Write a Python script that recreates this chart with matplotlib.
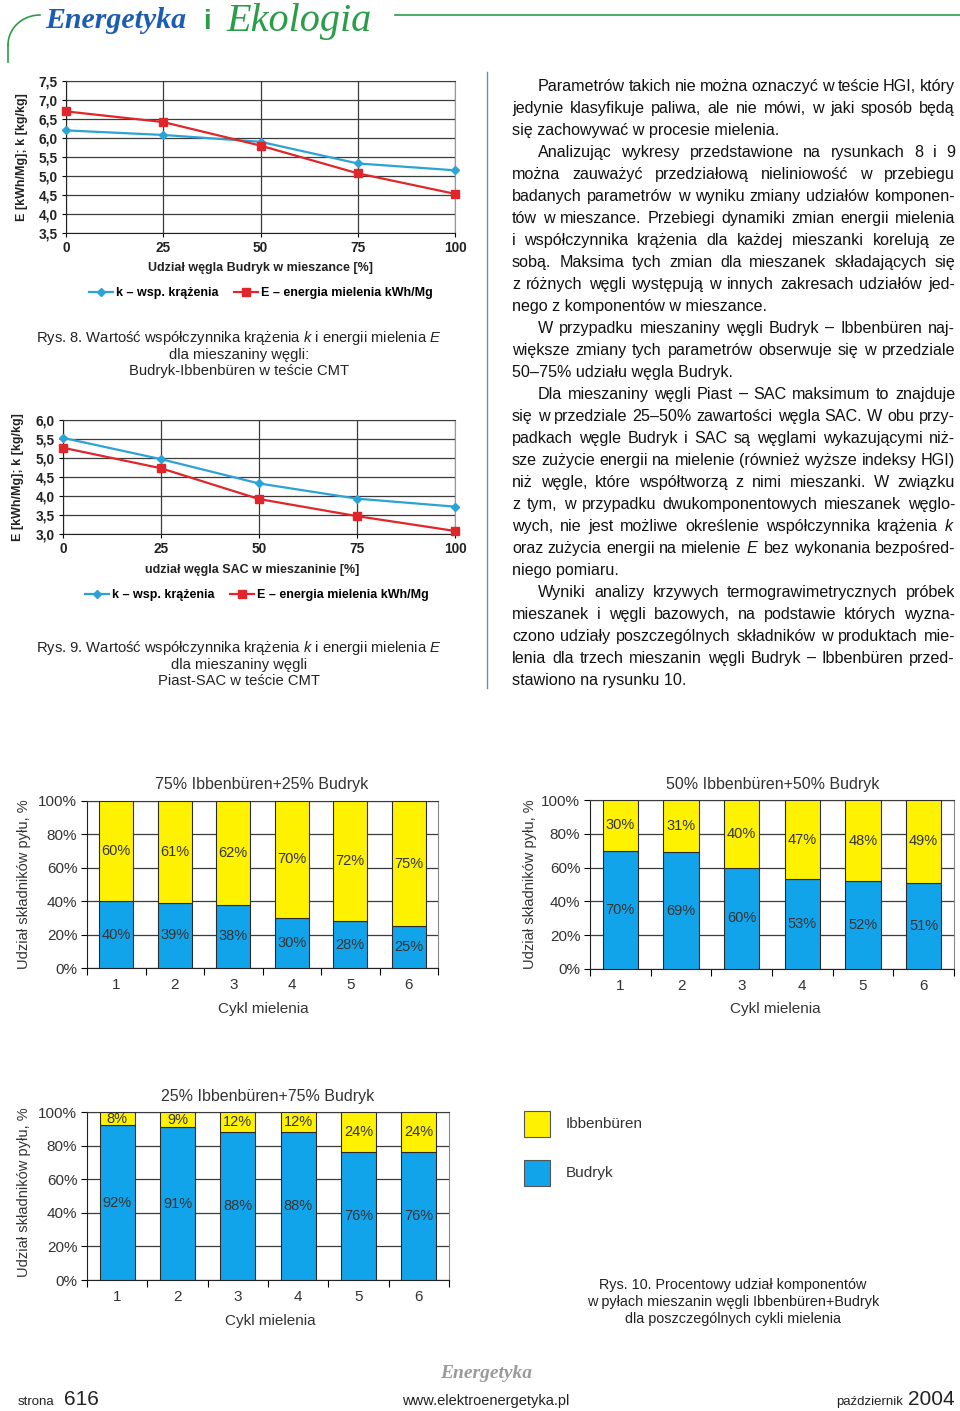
import matplotlib
matplotlib.use('Agg')
from matplotlib import pyplot as plt
from matplotlib.patches import Rectangle
from matplotlib.lines import Line2D
import numpy as np

plt.rcParams['font.family'] = ['Liberation Sans', 'DejaVu Sans']
plt.rcParams['mathtext.fontset'] = 'custom'
plt.rcParams['mathtext.rm'] = 'Liberation Sans'
plt.rcParams['mathtext.it'] = 'Liberation Sans:italic'

W, H = 960, 1411

# ---- data: Rys. 8 / Rys. 9 (line charts) ----
share = [0, 25, 50, 75, 100]
k_budryk = [6.20, 6.08, 5.90, 5.33, 5.15]
e_budryk = [6.70, 6.42, 5.80, 5.07, 4.53]
k_sac = [5.53, 4.97, 4.33, 3.93, 3.72]
e_sac = [5.27, 4.73, 3.92, 3.47, 3.08]
yticks_budryk = [3.5, 4.0, 4.5, 5.0, 5.5, 6.0, 6.5, 7.0, 7.5]
yticks_sac = [3.0, 3.5, 4.0, 4.5, 5.0, 5.5, 6.0]

# ---- data: Rys. 10 (stacked bars) ----
cycles = [1, 2, 3, 4, 5, 6]
ibb_75 = [60, 61, 62, 70, 72, 75]
bud_75 = [40, 39, 38, 30, 28, 25]
ibb_50 = [30, 31, 40, 47, 48, 49]
bud_50 = [70, 69, 60, 53, 52, 51]
ibb_25 = [8, 9, 12, 12, 24, 24]
bud_25 = [92, 91, 88, 88, 76, 76]
pct_ticks = [0, 20, 40, 60, 80, 100]

K_COL = '#2ba3d6'
E_COL = '#e0262b'
BLUE = '#12a4ea'
YELLOW = '#fff200'
GRID = '#3c3c3c'

fig = plt.figure(figsize=(W / 100, H / 100), dpi=100)


def axes_px(l, t, r, b):
    return fig.add_axes([l / W, 1 - b / H, (r - l) / W, (b - t) / H])


def ftext(x, y, s, **kw):
    return fig.text(x / W, 1 - y / H, s, **kw)


def line_chart(box, k, e, yticks, xlabel, xlab_xy, leg_xy, ylab_xy):
    ax = axes_px(*box)
    ax.plot(share, k, color=K_COL, marker='D', ms=4.5, lw=1.6, clip_on=False, zorder=4,
            label='k – wsp. krążenia')
    ax.plot(share, e, color=E_COL, marker='s', ms=5.5, lw=1.6, clip_on=False, zorder=4,
            label='E – energia mielenia kWh/Mg')
    ax.set_xlim(0, 100)
    ax.set_ylim(yticks[0], yticks[-1])
    ax.set_xticks(share)
    ax.set_yticks(yticks)
    ax.set_yticklabels([f'{v:.1f}'.replace('.', ',') for v in yticks])
    ax.grid(color=GRID, lw=0.9)
    ax.set_axisbelow(True)
    for s in ['left', 'bottom']:
        ax.spines[s].set_color('#222')
    ax.spines['top'].set_color(GRID)
    ax.spines['right'].set_color('#999')
    ax.tick_params(length=3, width=0.8, labelsize=9.8, pad=3)
    for lab in ax.get_xticklabels() + ax.get_yticklabels():
        lab.set_fontweight('bold')
        lab.set_color('#222')
    ftext(*xlab_xy, xlabel, ha='center', va='center', fontsize=9, fontweight='bold', color='#222')
    ftext(*ylab_xy, 'E [kWh/Mg]; k [kg/kg]', ha='center', va='center', rotation=90,
          fontsize=9, fontweight='bold', color='#222')
    fig.legend(*ax.get_legend_handles_labels(), loc='center',
               bbox_to_anchor=(leg_xy[0] / W, 1 - leg_xy[1] / H), ncol=2, frameon=False,
               handlelength=1.9, handletextpad=0.3, columnspacing=1.2,
               prop={'size': 9, 'weight': 'bold'})
    return ax


def bar_chart(box, ibb, bud, title, title_xy, xlab_xy, ylab_xy):
    ax = axes_px(*box)
    ax.bar(cycles, bud, width=0.58, color=BLUE, edgecolor='#2b2b2b', lw=0.8, zorder=3)
    ax.bar(cycles, ibb, bottom=bud, width=0.58, color=YELLOW, edgecolor='#2b2b2b', lw=0.8, zorder=3)
    for x, b, i in zip(cycles, bud, ibb):
        ax.text(x, b / 2, f'{b}%', ha='center', va='center', fontsize=10.5, color='#333', zorder=4)
        ax.text(x, b + i / 2, f'{i}%', ha='center', va='center', fontsize=10.5, color='#333', zorder=4)
    ax.set_xlim(0.5, 6.5)
    ax.set_ylim(0, 100)
    ax.set_yticks(pct_ticks)
    ax.set_yticklabels([f'{v}%' for v in pct_ticks])
    ax.yaxis.grid(True, color=GRID, lw=0.9)
    ax.set_axisbelow(True)
    ax.set_xticks(cycles)
    ax.set_xticks(np.arange(0.5, 7, 1), minor=True)
    ax.tick_params(axis='x', which='major', length=0, pad=7, labelsize=11, labelcolor='#333')
    ax.tick_params(axis='x', which='minor', length=5, width=0.8)
    ax.tick_params(axis='y', length=4, width=0.8, labelsize=11, labelcolor='#333', pad=3)
    ax.spines['left'].set_color('#222')
    ax.spines['bottom'].set_color('#222')
    ax.spines['top'].set_color(GRID)
    ax.spines['right'].set_color('#888')
    ftext(*title_xy, title, ha='center', va='center', fontsize=11.5, color='#333')
    ftext(*xlab_xy, 'Cykl mielenia', ha='center', va='center', fontsize=11, color='#333')
    ftext(*ylab_xy, 'Udział składników pyłu, %', ha='center', va='center', rotation=90,
          fontsize=10.5, color='#333')
    return ax


# ---- header ----
ftext(45, 20, 'Energetyka', fontsize=21.5, family='Liberation Serif', style='italic',
      fontweight='bold', color='#1c5cb4', va='center')
ftext(203, 22, 'i', fontsize=20, fontweight='bold', color='#2a9d48', va='center')
ftext(226, 22, 'Ekologia', fontsize=29, family='Liberation Serif', style='italic',
      color='#2a9d48', va='center')
fig.add_artist(Line2D([395 / W, 1.0], [1 - 15 / H] * 2, color='#2a9d48', lw=1.2))
t = np.linspace(0, np.pi / 2, 20)
fig.add_artist(Line2D((40 - 32 * np.sin(t)) / W, 1 - (15 + 30 * (1 - np.cos(t))) / H,
                      color='#2a9d48', lw=1.2))
fig.add_artist(Line2D([8 / W, 8 / W], [1 - 45 / H, 1 - 62 / H], color='#2a9d48', lw=1.2))

# ---- Rys. 8 / Rys. 9 ----
line_chart((66, 81, 455, 233), k_budryk, e_budryk, yticks_budryk,
           'Udział węgla Budryk w mieszance [%]', (261, 268), (261, 293), (22, 157))
line_chart((63, 420, 455, 534), k_sac, e_sac, yticks_sac,
           'udział węgla SAC w mieszaninie [%]', (252, 570), (257, 595), (18, 477))

for y0, lines in [(338, ['Rys. 8. Wartość współczynnika krążenia $k$ i energii mielenia $E$',
                         'dla mieszaniny węgli:', 'Budryk-Ibbenbüren w teście CMT']),
                  (648, ['Rys. 9. Wartość współczynnika krążenia $k$ i energii mielenia $E$',
                         'dla mieszaniny węgli', 'Piast-SAC w teście CMT'])]:
    for j, s in enumerate(lines):
        ftext(239, y0 + j * 16.5, s, ha='center', va='center', fontsize=10.6, color='#222')

# ---- column divider ----
fig.add_artist(Line2D([487 / W] * 2, [1 - 72 / H, 1 - 688 / H], color='#6f8fb0', lw=1))

# ---- body text (justified) ----
paragraphs = [
    ['Parametrów takich nie można oznaczyć w teście HGI, który',
     'jedynie klasyfikuje paliwa, ale nie mówi, w jaki sposób będą',
     'się zachowywać w procesie mielenia.'],
    ['Analizując wykresy przedstawione na rysunkach 8 i 9',
     'można zauważyć przedziałową nieliniowość w przebiegu',
     'badanych parametrów w wyniku zmiany udziałów komponen-',
     'tów w mieszance. Przebiegi dynamiki zmian energii mielenia',
     'i współczynnika krążenia dla każdej mieszanki korelują ze',
     'sobą. Maksima tych zmian dla mieszanek składających się',
     'z różnych węgli występują w innych zakresach udziałów jed-',
     'nego z komponentów w mieszance.'],
    ['W przypadku mieszaniny węgli Budryk – Ibbenbüren naj-',
     'większe zmiany tych parametrów obserwuje się w przedziale',
     '50–75% udziału węgla Budryk.'],
    ['Dla mieszaniny węgli Piast – SAC maksimum to znajduje',
     'się w przedziale 25–50% zawartości węgla SAC. W obu przy-',
     'padkach węgle Budryk i SAC są węglami wykazującymi niż-',
     'sze zużycie energii na mielenie (również wyższe indeksy HGI)',
     'niż węgle, które współtworzą z nimi mieszanki. W związku',
     'z tym, w przypadku dwukomponentowych mieszanek węglo-',
     'wych, nie jest możliwe określenie współczynnika krążenia $k$',
     'oraz zużycia energii na mielenie $E$ bez wykonania bezpośred-',
     'niego pomiaru.'],
    ['Wyniki analizy krzywych termograwimetrycznych próbek',
     'mieszanek i węgli bazowych, na podstawie których wyzna-',
     'czono udziały poszczególnych składników w produktach mie-',
     'lenia dla trzech mieszanin węgli Budryk – Ibbenbüren przed-',
     'stawiono na rysunku 10.'],
]

renderer = fig.canvas.get_renderer()
BODY_FS = 11.6
left, right, indent = 512, 955, 26
row = 0
for para in paragraphs:
    for j, line in enumerate(para):
        base = 91 + row * 22
        x0 = left + (indent if j == 0 else 0)
        if j == len(para) - 1:
            ftext(x0, base, line, fontsize=BODY_FS, va='baseline', color='#111')
        else:
            words = line.split(' ')
            arts = [ftext(0, base, w, fontsize=BODY_FS, va='baseline', color='#111') for w in words]
            widths = [a.get_window_extent(renderer).width for a in arts]
            gap = (right - x0 - sum(widths)) / (len(words) - 1)
            x = x0
            for a, w in zip(arts, widths):
                a.set_x(x / W)
                x += w + gap
        row += 1

# ---- Rys. 10 ----
bar_chart((87, 801, 438, 968), ibb_75, bud_75, '75% Ibbenbüren+25% Budryk',
          (262, 785), (263, 1009), (24, 884))
bar_chart((590, 800, 954, 969), ibb_50, bud_50, '50% Ibbenbüren+50% Budryk',
          (773, 785), (775, 1009), (530, 884))
bar_chart((87, 1112, 449, 1280), ibb_25, bud_25, '25% Ibbenbüren+75% Budryk',
          (268, 1097), (270, 1321), (24, 1192))

for y, col, lab in [(1111, YELLOW, 'Ibbenbüren'), (1160, BLUE, 'Budryk')]:
    fig.add_artist(Rectangle((524 / W, 1 - (y + 26) / H), 26 / W, 26 / H,
                             facecolor=col, edgecolor='#555', lw=0.8))
    ftext(566, y + 13, lab, va='center', fontsize=11, color='#333')

for j, s in enumerate(['Rys. 10. Procentowy udział komponentów',
                       'w pyłach mieszanin węgli Ibbenbüren+Budryk',
                       'dla poszczególnych cykli mielenia']):
    ftext(733, 1285 + j * 17, s, ha='center', va='center', fontsize=10.4, color='#222')

# ---- footer ----
ftext(486, 1374, 'Energetyka', ha='center', va='center', fontsize=14, family='Liberation Serif',
      style='italic', fontweight='bold', color='#9a9a9a')
ftext(18, 1405, 'strona', fontsize=9.5, va='baseline', color='#222')
ftext(64, 1405, '616', fontsize=15, va='baseline', color='#222')
ftext(486, 1405, 'www.elektroenergetyka.pl', ha='center', fontsize=10.5, va='baseline', color='#222')
ftext(955, 1405, '2004', ha='right', fontsize=15, va='baseline', color='#222')
ftext(903, 1405, 'październik', ha='right', fontsize=9.5, va='baseline', color='#222')

fig.savefig('out.png', dpi=100)
